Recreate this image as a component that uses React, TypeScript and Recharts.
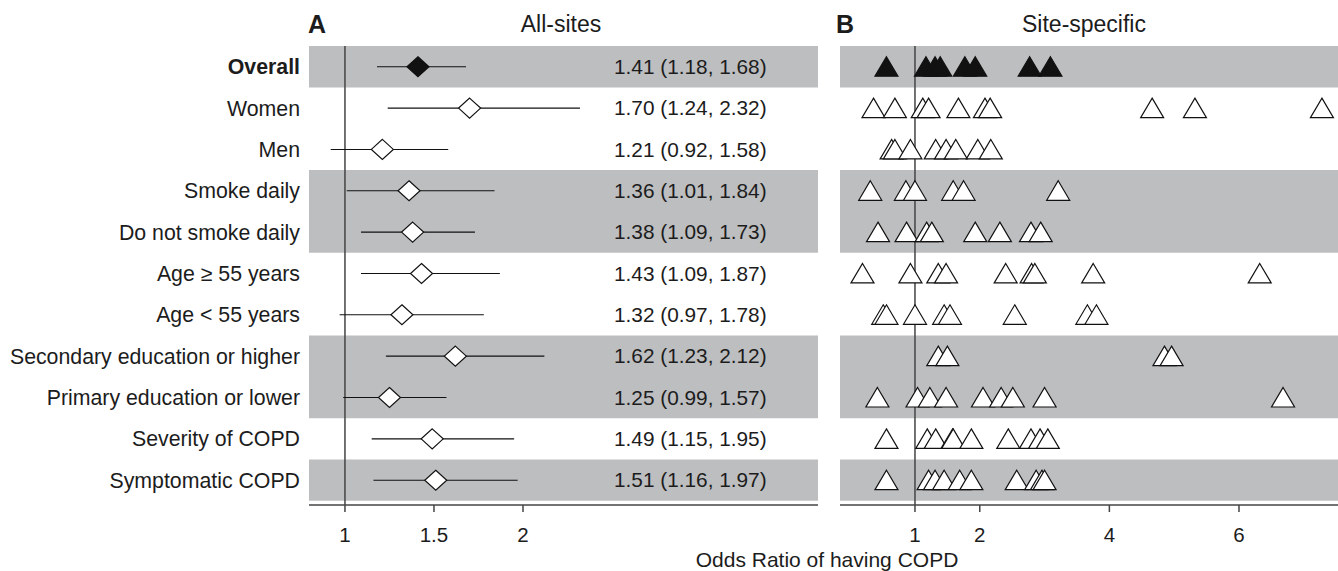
import React from 'react';
import { ScatterChart, Scatter, XAxis, YAxis, ReferenceArea, ReferenceLine, ErrorBar } from 'recharts';

const FONT = '"Liberation Sans", Arial, Helvetica, sans-serif';

// ---- Data ----
const rowLabels = [
  'Overall',
  'Women',
  'Men',
  'Smoke daily',
  'Do not smoke daily',
  'Age \u2265 55 years',
  'Age < 55 years',
  'Secondary education or higher',
  'Primary education or lower',
  'Severity of COPD',
  'Symptomatic COPD',
];
const orEstimate = [1.41, 1.70, 1.21, 1.36, 1.38, 1.43, 1.32, 1.62, 1.25, 1.49, 1.51];
const ciLower = [1.18, 1.24, 0.92, 1.01, 1.09, 1.09, 0.97, 1.23, 0.99, 1.15, 1.16];
const ciUpper = [1.68, 2.32, 1.58, 1.84, 1.73, 1.87, 1.78, 2.12, 1.57, 1.95, 1.97];
const shadedRows = [0, 3, 4, 7, 8, 10];
const ticksA = [1, 1.5, 2];
const ticksB = [1, 2, 4, 6];

const siteOverall = [0.56, 1.17, 1.31, 1.39, 1.77, 1.93, 2.77, 3.09];
const siteWomen = [0.36, 0.69, 1.12, 1.21, 1.67, 2.08, 2.16, 4.66, 5.32, 7.28];
const siteMen = [0.64, 0.69, 0.93, 1.32, 1.48, 1.63, 1.97, 2.17];
const siteSmoke = [0.31, 0.86, 1.0, 1.59, 1.75, 3.21];
const siteNoSmoke = [0.43, 0.87, 1.18, 1.26, 1.93, 2.31, 2.79, 2.94];
const siteAgeOld = [0.19, 0.93, 1.36, 1.48, 2.4, 2.8, 2.85, 3.75, 6.32];
const siteAgeYoung = [0.51, 0.56, 1.0, 1.45, 1.54, 2.54, 3.66, 3.8];
const siteSecondary = [1.36, 1.5, 4.85, 4.96];
const sitePrimary = [0.42, 1.04, 1.23, 1.48, 2.05, 2.33, 2.51, 3.0, 6.68];
const siteSeverity = [0.56, 1.19, 1.32, 1.58, 1.59, 1.87, 2.44, 2.79, 2.93, 3.05];
const siteSymptomatic = [0.56, 1.21, 1.31, 1.45, 1.69, 1.87, 2.57, 2.87, 2.96, 3.0];

const siteRows = [
  siteWomen,
  siteMen,
  siteSmoke,
  siteNoSmoke,
  siteAgeOld,
  siteAgeYoung,
  siteSecondary,
  sitePrimary,
  siteSeverity,
  siteSymptomatic,
];

// ---- Derived tables ----
const forestData = rowLabels.map((label, i) => ({
  y: i,
  or: orEstimate[i],
  err: [orEstimate[i] - ciLower[i], ciUpper[i] - orEstimate[i]],
  text: `${orEstimate[i].toFixed(2)} (${ciLower[i].toFixed(2)}, ${ciUpper[i].toFixed(2)})`,
}));
const overallSites = siteOverall.map((v) => ({ v, y: 0 }));
const otherSites = siteRows.flatMap((arr, r) => arr.map((v) => ({ v, y: r + 1 })));

// merge contiguous shaded rows into single bands (avoids seams)
const bands: { from: number; to: number }[] = [];
shadedRows.forEach((r) => {
  const last = bands[bands.length - 1];
  if (last && last.to === r - 1) last.to = r;
  else bands.push({ from: r, to: r });
});

const Y_DOMAIN: [number, number] = [-0.55, 10.6];
const rowTicks = rowLabels.map((_, i) => i);
const BAND = '#bdbec0';
const AXIS = '#444';
const TEXT = '#1c1c1c';
const VALUE_TEXT_X = 614;

const RowTick = (props: any) => {
  const { x, y, payload } = props;
  const i = payload.value as number;
  return (
    <text
      x={x}
      y={y}
      dy="0.35em"
      textAnchor="end"
      fontFamily={FONT}
      fontSize={21.3}
      fontWeight={i === 0 ? 'bold' : 'normal'}
      fill={TEXT}
    >
      {rowLabels[i]}
    </text>
  );
};

const Diamond = (props: any) => {
  const { cx, cy, payload } = props;
  const filled = payload.y === 0;
  return (
    <g>
      <path
        d={`M${cx},${cy - 10} L${cx + 11},${cy} L${cx},${cy + 10} L${cx - 11},${cy} Z`}
        fill={filled ? '#111' : '#fff'}
        stroke="#111"
        strokeWidth={1.2}
      />
      <text
        x={VALUE_TEXT_X}
        y={cy}
        dy="0.35em"
        fontFamily={FONT}
        fontSize={20.8}
        fill={TEXT}
      >
        {payload.text}
      </text>
    </g>
  );
};

const Nothing = () => <g />;

const Triangle = (filled: boolean) => (props: any) => {
  const { cx, cy } = props;
  return (
    <path
      d={`M${cx},${cy - 10} L${cx + 11.5},${cy + 9.5} L${cx - 11.5},${cy + 9.5} Z`}
      fill={filled ? '#111' : '#fff'}
      stroke="#111"
      strokeWidth={1.2}
      strokeLinejoin="miter"
    />
  );
};

const tickStyle = { fontFamily: FONT, fontSize: 20.5, fill: TEXT };

export default function App() {
  return (
    <div style={{ position: 'absolute', left: 0, top: 0, width: 1338, height: 571, background: '#fff', overflow: 'hidden' }}>
      <div style={{ position: 'absolute', left: 0, top: 0 }}>
        <ScatterChart width={830} height={571} margin={{ top: 44, right: 12, bottom: 36, left: 0 }}>
          <XAxis
            dataKey="or"
            type="number"
            domain={[0.798, 3.657]}
            ticks={ticksA}
            allowDataOverflow
            height={30}
            axisLine={{ stroke: AXIS, strokeWidth: 1.5 }}
            tickLine={{ stroke: AXIS, strokeWidth: 1.5 }}
            tickSize={7}
            tickMargin={15}
            tick={tickStyle}
          />
          <YAxis
            dataKey="y"
            type="number"
            domain={Y_DOMAIN}
            reversed
            ticks={rowTicks}
            interval={0}
            width={309}
            axisLine={false}
            tickLine={false}
            tickSize={0}
            tickMargin={9}
            tick={<RowTick />}
            allowDataOverflow
          />
          {bands.map((b) => (
            <ReferenceArea key={b.from} y1={b.from - 0.5} y2={b.to + 0.5} fill={BAND} fillOpacity={1} stroke="none" />
          ))}
          <ReferenceLine segment={[{ x: 1, y: -0.5 }, { x: 1, y: 10.6 }]} stroke={AXIS} strokeWidth={1.5} />
          <Scatter data={forestData} shape={<Nothing />} isAnimationActive={false}>
            <ErrorBar dataKey="err" direction="x" width={0} stroke="#111" strokeWidth={1.1} />
          </Scatter>
          <Scatter data={forestData} shape={<Diamond />} isAnimationActive={false} />
        </ScatterChart>
      </div>
      <div style={{ position: 'absolute', left: 830, top: 0 }}>
        <ScatterChart width={508} height={571} margin={{ top: 44, right: 0, bottom: 36, left: 10 }}>
          <XAxis
            dataKey="v"
            type="number"
            domain={[-0.157, 7.528]}
            ticks={ticksB}
            allowDataOverflow
            height={30}
            axisLine={{ stroke: AXIS, strokeWidth: 1.5 }}
            tickLine={{ stroke: AXIS, strokeWidth: 1.5 }}
            tickSize={7}
            tickMargin={15}
            tick={tickStyle}
          />
          <YAxis dataKey="y" type="number" domain={Y_DOMAIN} reversed hide allowDataOverflow />
          {bands.map((b) => (
            <ReferenceArea key={b.from} y1={b.from - 0.5} y2={b.to + 0.5} fill={BAND} fillOpacity={1} stroke="none" />
          ))}
          <Scatter data={overallSites} shape={Triangle(true)} isAnimationActive={false} />
          <Scatter data={otherSites} shape={Triangle(false)} isAnimationActive={false} />
          <ReferenceLine segment={[{ x: 1, y: -0.5 }, { x: 1, y: 10.6 }]} stroke={AXIS} strokeWidth={1.5} />
        </ScatterChart>
      </div>
      <svg width={1338} height={571} style={{ position: 'absolute', left: 0, top: 0, pointerEvents: 'none' }}>
        <text x={308} y={33} fontFamily={FONT} fontSize={25} fontWeight="bold" fill={TEXT}>A</text>
        <text x={561} y={32} textAnchor="middle" fontFamily={FONT} fontSize={23} fill={TEXT}>All-sites</text>
        <text x={836} y={33} fontFamily={FONT} fontSize={25} fontWeight="bold" fill={TEXT}>B</text>
        <text x={1084} y={32} textAnchor="middle" fontFamily={FONT} fontSize={23} fill={TEXT}>Site-specific</text>
        <text x={827} y={567} textAnchor="middle" fontFamily={FONT} fontSize={21} fill={TEXT}>Odds Ratio of having COPD</text>
      </svg>
    </div>
  );
}
